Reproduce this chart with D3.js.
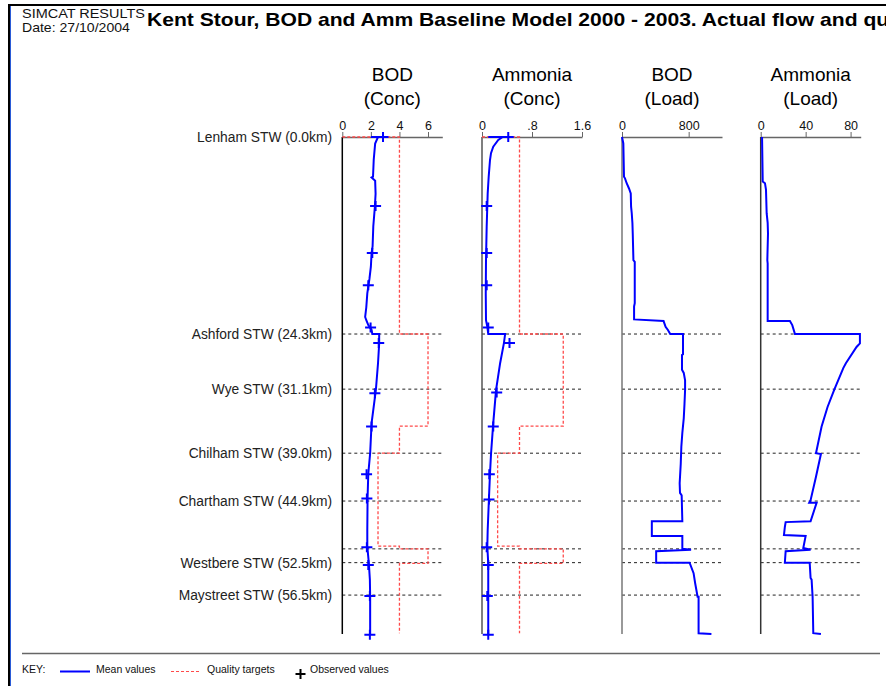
<!DOCTYPE html>
<html>
<head>
<meta charset="utf-8">
<script src="https://d3js.org/d3.v7.min.js"></script>
<style>
  body { margin: 0; background: #fff; }
  svg { display: block; font-family: Arial, "Liberation Sans", sans-serif; }
</style>
</head>
<body>
<div id="chart"></div>
<script>
// stations along the river (distance in km)
const stationNames = ["Lenham STW (0.0km)", "Ashford STW (24.3km)", "Wye STW (31.1km)", "Chilham STW (39.0km)",
  "Chartham STW (44.9km)", "", "Westbere STW (52.5km)", "Maystreet STW (56.5km)"];
const stationKm = [0, 24.3, 31.1, 39.0, 44.9, 50.8, 52.5, 56.5];
const riverEndKm = 61.3;

// BOD concentration [km, mg/l]
const bodConcMean = [[0,2.0],[0,2.5],[0.8,2.3],[2.8,2.2],[4.9,2.15],[5.0,2.05],[5.4,2.3],[7,2.33],[8.6,2.28],
  [11,2.17],[13.5,2.12],[14.3,2.05],[16,2.0],[17.5,1.9],[19.3,1.75],[21,1.68],[22.2,1.6],[22.6,1.68],[23.2,1.82],
  [23.8,2.05],[24.3,2.1],[24.3,2.58],[25.5,2.58],[27.9,2.5],[31.2,2.35],[35.3,2.05],[39,1.95],[41.5,1.82],
  [44.4,1.77],[48.5,1.75],[50.5,1.75],[52.6,1.86],[54.6,1.93],[56.7,1.95],[61.3,1.95]];
const bodConcObs = [[0,2.85],[8.5,2.33],[14.3,2.1],[18.3,1.82],[23.5,1.98],[25.4,2.55],[31.6,2.28],[35.7,2.05],
  [41.6,1.7],[44.6,1.72],[50.6,1.72],[52.8,1.82],[56.6,1.93],[61.4,1.93]];
const bodConcTarget = [[0,0],[0,4],[24.3,4],[24.3,6],[35.65,6],[35.65,4],[39,4],[39,2.5],[50.45,2.5],[50.45,4],
  [50.8,4],[50.8,6],[52.6,6],[52.6,4],[61.2,4]];

// Ammonia concentration [km, mg/l]
const ammConcMean = [[0,0.1],[0,0.33],[0.37,0.26],[1.2,0.18],[2.0,0.144],[2.84,0.128],[4.9,0.107],[6.95,0.091],
  [11,0.075],[15.2,0.064],[19.3,0.06],[22.6,0.064],[23.4,0.085],[24.3,0.1],[24.3,0.37],[25.45,0.35],[27.9,0.29],
  [31.2,0.225],[35.3,0.18],[39,0.145],[41.5,0.128],[44.4,0.112],[48.5,0.091],[50.5,0.085],[52.6,0.1],[56.7,0.1],
  [61.3,0.1]];
const ammConcObs = [[0,0.42],[8.5,0.075],[14.3,0.075],[18.3,0.075],[23.5,0.1],[25.4,0.44],[31.5,0.235],[35.7,0.18],
  [41.6,0.117],[44.7,0.112],[50.6,0.075],[52.8,0.1],[56.6,0.085],[61.4,0.1]];
const ammConcTarget = [[0,0],[0,0.6],[24.3,0.6],[24.3,1.3],[35.65,1.3],[35.65,0.6],[39,0.6],[39,0.25],[50.45,0.25],
  [50.45,0.6],[50.8,0.6],[50.8,1.3],[52.6,1.3],[52.6,0.6],[61.2,0.6]];

// BOD load [km, kg/day]
const bodLoadMean = [[0,0],[0.8,16],[4.9,24],[5.1,36],[5.7,56],[6.35,84],[6.95,105],[8.6,109],[9.4,117],[10.6,125],
  [11.9,129],[15.2,137],[15.4,153],[20.5,153],[20.9,145],[22.5,145],[22.7,499],[23.4,523],[23.8,551],[24.3,579],
  [24.3,732],[26.8,732],[26.9,720],[28.7,720],[29.1,741],[30,757],[31.2,757],[32.9,750],[34.7,741],[36.5,724],
  [38.2,712],[40.3,705],[42.7,692],[43.9,696],[44.2,716],[47.4,724],[47.4,358],[49.2,358],[49.2,724],[50.8,724],
  [50.9,829],[51.1,410],[52.5,410],[52.5,811],[53.8,859],[55.1,879],[56.7,907],[56.7,919],[61.2,919],[61.3,1073]];

// Ammonia load [km, kg/day]
const ammLoadMean = [[0,1.2],[5.5,1.8],[5.7,3.8],[6.5,4.7],[9.4,5.3],[10.6,6.2],[11.9,6.5],[15.2,5.9],[15.6,6.2],
  [22.7,6.2],[22.7,26],[23.2,28.1],[24.3,30.5],[24.3,88.3],[25.45,88.3],[25.9,85.3],[27.9,75.8],[28.5,73.5],
  [31.2,65.4],[33.3,59.5],[35.7,54.2],[39.0,49.2],[39.1,53.6],[41.9,49.2],[44.8,44.4],[45.1,43.2],[45.1,49.8],
  [47.4,44.4],[47.5,22.2],[48.1,21.5],[49.1,20.7],[49.2,40],[50.7,37.9],[50.9,44.4],[51.1,22.2],[52.5,21.5],
  [52.5,43.6],[54.4,44.4],[54.6,45.3],[56.7,46.2],[61.2,46.8],[61.3,53.6]];

const W = 886, H = 686;
const panelW = 100;

const panels = [
  { title: ["BOD", "(Conc)"], x0: 342.3, domain: [0, 7], ticks: [0, 2, 4, 6], axisColour: "#000",
    mean: bodConcMean, obs: bodConcObs, target: bodConcTarget },
  { title: ["Ammonia", "(Conc)"], x0: 482, domain: [0, 1.6], ticks: [0, 0.8, 1.6], axisColour: "#555",
    mean: ammConcMean, obs: ammConcObs, target: ammConcTarget },
  { title: ["BOD", "(Load)"], x0: 622, domain: [0, 1200], ticks: [0, 800], axisColour: "#777",
    mean: bodLoadMean, obs: [], target: [] },
  { title: ["Ammonia", "(Load)"], x0: 760.7, domain: [0, 89], ticks: [0, 40, 80], axisColour: "#333",
    mean: ammLoadMean, obs: [], target: [] }
];

const svg = d3.select("#chart").append("svg")
  .attr("width", W)
  .attr("height", H);

svg.append("rect").attr("width", W).attr("height", H).attr("fill", "#fff");

// page frame
svg.append("line").attr("x1", 8).attr("x2", W).attr("y1", 5).attr("y2", 5)
  .attr("stroke", "#000").attr("stroke-width", 2);
svg.append("line").attr("x1", 9).attr("x2", 9).attr("y1", 4).attr("y2", H)
  .attr("stroke", "#000").attr("stroke-width", 2);
svg.append("line").attr("x1", 10.5).attr("x2", 10.5).attr("y1", 6).attr("y2", H)
  .attr("stroke", "#2a5bd7").attr("stroke-width", 1);

// header
const simcat = svg.append("text").attr("x", 22).attr("y", 18).attr("font-size", 12).attr("fill", "#111")
  .text("SIMCAT RESULTS");
const scW = simcat.node().getComputedTextLength();
simcat.attr("transform", `translate(22,0) scale(${(145 - 22) / scW},1) translate(-22,0)`);
const dateTxt = svg.append("text").attr("x", 22).attr("y", 32.5).attr("font-size", 13).attr("fill", "#111")
  .text("Date: 27/10/2004");
const dW = dateTxt.node().getComputedTextLength();
dateTxt.attr("transform", `translate(22,0) scale(${(130 - 22) / dW},1) translate(-22,0)`);

const title = svg.append("text").attr("x", 147).attr("y", 26)
  .attr("font-size", 18).attr("font-weight", "bold").attr("fill", "#000")
  .text("Kent Stour, BOD and Amm Baseline Model 2000 - 2003. Actual flow and ");
// stretch so "...and " ends where "qu" starts in the reference
const prefixW = title.node().getComputedTextLength();
const sx = (858 - 147) / prefixW;
title.text("Kent Stour, BOD and Amm Baseline Model 2000 - 2003. Actual flow and quality")
  .attr("transform", `translate(147,0) scale(${sx},1) translate(-147,0)`);

// distance down the river
const y = d3.scaleLinear().domain([0, riverEndKm]).range([137, 634]);

// station labels
svg.append("g").selectAll("text")
  .data(stationKm.map((km, i) => ({ km, name: stationNames[i] })).filter(d => d.name))
  .enter().append("text")
    .attr("x", 332)
    .attr("y", d => y(d.km) + 5)
    .attr("text-anchor", "end")
    .attr("font-size", 13.8)
    .attr("fill", "#222")
    .text(d => d.name);

const tickFmt = d => d === 0 ? "0" : (d < 1 ? String(d).replace(/^0/, "") : String(d));

panels.forEach(p => {
  const x = d3.scaleLinear().domain(p.domain).range([p.x0, p.x0 + panelW]);
  const g = svg.append("g");

  // headings
  g.append("text").attr("x", p.x0 + 50).attr("y", 81).attr("text-anchor", "middle")
    .attr("font-size", 19).attr("fill", "#000").text(p.title[0]);
  g.append("text").attr("x", p.x0 + 50).attr("y", 105).attr("text-anchor", "middle")
    .attr("font-size", 19).attr("fill", "#000").text(p.title[1]);

  // discharge lines
  g.selectAll(".stn")
    .data(stationKm.filter(km => km > 0))
    .enter().append("line")
      .attr("x1", p.x0).attr("x2", p.x0 + panelW)
      .attr("y1", d => y(d)).attr("y2", d => y(d))
      .attr("stroke", "#222").attr("stroke-width", 1)
      .attr("stroke-dasharray", "3,3");

  // top axis
  const axis = d3.axisTop(x).tickValues(p.ticks).tickFormat(tickFmt).tickSize(5).tickSizeOuter(0).tickPadding(2);
  const ax = g.append("g").attr("transform", "translate(0," + y(0) + ")").call(axis);
  ax.select(".domain").attr("stroke", "#666").attr("stroke-width", 1.5);
  ax.selectAll(".tick line").attr("stroke", "#666");
  ax.selectAll(".tick text").attr("font-size", 12.5).attr("fill", "#111")
    .attr("font-family", "Arial, 'Liberation Sans', sans-serif");

  // left axis
  g.append("line").attr("x1", p.x0).attr("x2", p.x0).attr("y1", y(0)).attr("y2", y(riverEndKm))
    .attr("stroke", p.axisColour).attr("stroke-width", 1.5);

  const line = d3.line().x(d => x(d[1])).y(d => y(d[0]));

  // quality targets
  if (p.target.length) {
    g.append("path").datum(p.target)
      .attr("d", line)
      .attr("fill", "none")
      .attr("stroke", "#ff4a4a")
      .attr("stroke-width", 1.3)
      .attr("stroke-dasharray", "3,2");
  }

  // mean values
  g.append("path").datum(p.mean)
    .attr("d", line)
    .attr("fill", "none")
    .attr("stroke", "#0000ff")
    .attr("stroke-width", 2);

  // observed values
  g.selectAll(".obs")
    .data(p.obs)
    .enter().append("path")
      .attr("transform", d => "translate(" + x(d[1]) + "," + y(d[0]) + ")")
      .attr("d", "M-5.5,0H5.5M0,-5V5")
      .attr("stroke", "#0000ff")
      .attr("stroke-width", 2);
});

// key
svg.append("line").attr("x1", 22).attr("x2", 880).attr("y1", 653.5).attr("y2", 653.5)
  .attr("stroke", "#666").attr("stroke-width", 1.5);
const key = svg.append("g").attr("font-size", 10.5).attr("fill", "#111");
key.append("text").attr("x", 22).attr("y", 673).text("KEY:");
key.append("line").attr("x1", 60).attr("x2", 90).attr("y1", 671.5).attr("y2", 671.5)
  .attr("stroke", "#0000ff").attr("stroke-width", 2);
key.append("text").attr("x", 96).attr("y", 673).text("Mean values");
key.append("line").attr("x1", 171).attr("x2", 199).attr("y1", 671.5).attr("y2", 671.5)
  .attr("stroke", "#ff4a4a").attr("stroke-width", 1).attr("stroke-dasharray", "3,2");
key.append("text").attr("x", 207).attr("y", 673).text("Quality targets");
key.append("path").attr("transform", "translate(300.5,674)").attr("d", "M-5,0H5M0,-5V5")
  .attr("stroke", "#000").attr("stroke-width", 2);
key.append("text").attr("x", 310).attr("y", 673).text("Observed values");
</script>
</body>
</html>
